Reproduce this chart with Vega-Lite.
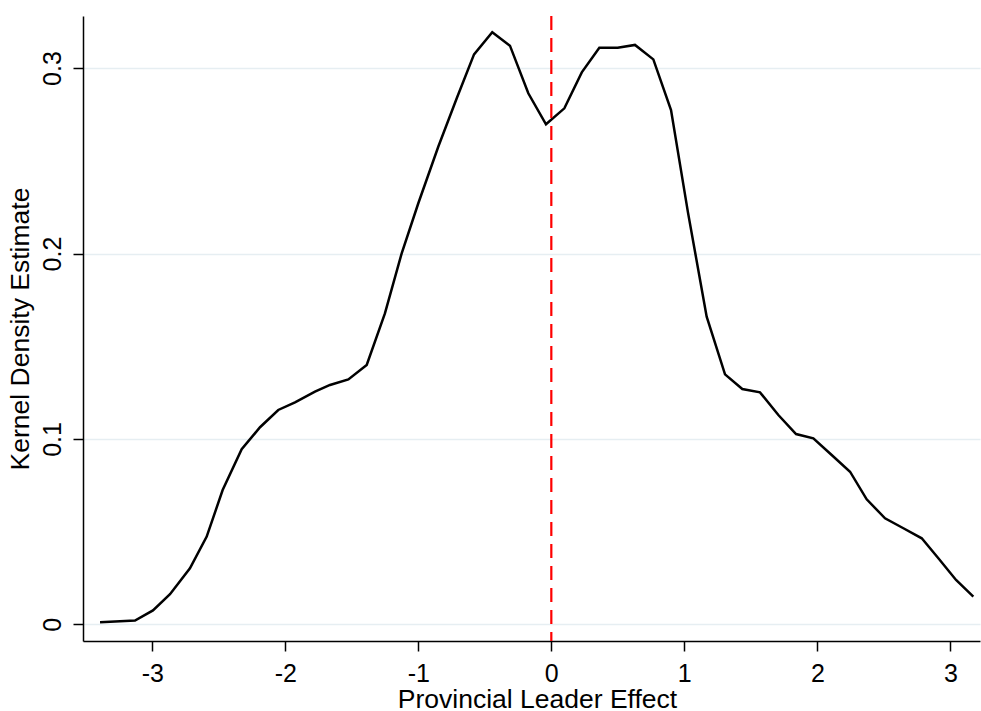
{
  "$schema": "https://vega.github.io/schema/vega-lite/v6.json",
  "width": 897,
  "height": 625,
  "autosize": {"type": "none"},
  "padding": {"left": 83, "top": 16, "right": 1, "bottom": 70},
  "background": "white",
  "config": {
    "view": {"stroke": null},
    "font": "Liberation Sans",
    "axis": {
      "labelFont": "Liberation Sans",
      "titleFont": "Liberation Sans",
      "labelFontSize": 25,
      "titleFontSize": 26.5,
      "titleFontWeight": "normal",
      "labelColor": "black",
      "titleColor": "black",
      "domainColor": "black",
      "domainWidth": 1.5,
      "tickColor": "black",
      "tickWidth": 1.5,
      "tickSize": 10,
      "gridColor": "#e6eef2",
      "gridWidth": 1.5
    }
  },
  "datasets": {
    "kde": [
      {"x": -3.393, "d": 0.0011},
      {"x": -3.130, "d": 0.0020},
      {"x": -2.995, "d": 0.0075},
      {"x": -2.867, "d": 0.0162},
      {"x": -2.717, "d": 0.0302},
      {"x": -2.591, "d": 0.0473},
      {"x": -2.471, "d": 0.0724},
      {"x": -2.328, "d": 0.0944},
      {"x": -2.190, "d": 0.1063},
      {"x": -2.053, "d": 0.1156},
      {"x": -1.927, "d": 0.1197},
      {"x": -1.777, "d": 0.1255},
      {"x": -1.664, "d": 0.1291},
      {"x": -1.526, "d": 0.1321},
      {"x": -1.388, "d": 0.1399},
      {"x": -1.251, "d": 0.1677},
      {"x": -1.125, "d": 0.2001},
      {"x": -1.000, "d": 0.2271},
      {"x": -0.850, "d": 0.2576},
      {"x": -0.711, "d": 0.2837},
      {"x": -0.581, "d": 0.3074},
      {"x": -0.444, "d": 0.3193},
      {"x": -0.311, "d": 0.3121},
      {"x": -0.173, "d": 0.2864},
      {"x": -0.040, "d": 0.2697},
      {"x": 0.098, "d": 0.2783},
      {"x": 0.229, "d": 0.2977},
      {"x": 0.361, "d": 0.3110},
      {"x": 0.499, "d": 0.3110},
      {"x": 0.629, "d": 0.3125},
      {"x": 0.767, "d": 0.3047},
      {"x": 0.900, "d": 0.2774},
      {"x": 1.028, "d": 0.2219},
      {"x": 1.168, "d": 0.1659},
      {"x": 1.306, "d": 0.1348},
      {"x": 1.436, "d": 0.1269},
      {"x": 1.569, "d": 0.1251},
      {"x": 1.707, "d": 0.1129},
      {"x": 1.840, "d": 0.1026},
      {"x": 1.970, "d": 0.1003},
      {"x": 2.108, "d": 0.0913},
      {"x": 2.246, "d": 0.0823},
      {"x": 2.371, "d": 0.0674},
      {"x": 2.509, "d": 0.0572},
      {"x": 2.647, "d": 0.0518},
      {"x": 2.785, "d": 0.0464},
      {"x": 2.910, "d": 0.0356},
      {"x": 3.043, "d": 0.0239},
      {"x": 3.173, "d": 0.0149}
    ],
    "ref": [{"x": 0}]
  },
  "layer": [
    {
      "data": {"name": "kde"},
      "mark": {"type": "line", "color": "black", "strokeWidth": 2.5, "clip": true},
      "encoding": {
        "x": {
          "field": "x",
          "type": "quantitative",
          "scale": {"domain": [-3.521, 3.223], "nice": false, "zero": false},
          "axis": {
            "title": "Provincial Leader Effect",
            "values": [-3, -2, -1, 0, 1, 2, 3],
            "labelExpr": "toString(datum.value)",
            "grid": false,
            "labelPadding": 10,
            "titlePadding": 0,
            "titleX": 454
          }
        },
        "y": {
          "field": "d",
          "type": "quantitative",
          "scale": {"domain": [-0.009, 0.3281], "nice": false, "zero": false},
          "axis": {
            "title": "Kernel Density Estimate",
            "values": [0, 0.1, 0.2, 0.3],
            "labelExpr": "toString(datum.value)",
            "grid": true,
            "labelAngle": -90,
            "labelAlign": "center",
            "labelBaseline": "bottom",
            "labelPadding": 8,
            "titlePadding": 6
          }
        }
      }
    },
    {
      "data": {"name": "ref"},
      "mark": {"type": "rule", "color": "#ff0000", "strokeWidth": 2.2, "strokeDash": [14, 8]},
      "encoding": {
        "x": {"field": "x", "type": "quantitative"}
      }
    }
  ]
}
